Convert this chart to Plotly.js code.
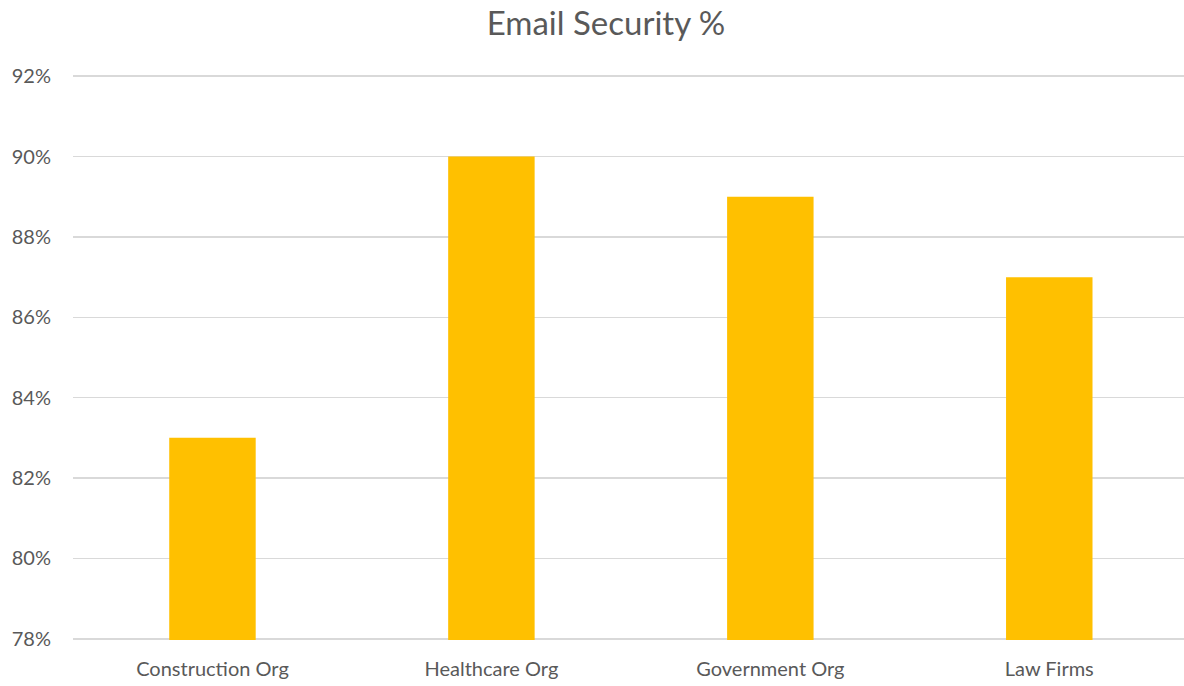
<!DOCTYPE html>
<html>
<head>
<meta charset="utf-8">
<script src="https://cdn.plot.ly/plotly-3.0.1.min.js"></script>
<style>html,body{margin:0;padding:0;background:#fff;}#chart{width:1184px;height:686px;}</style>
</head>
<body>
<div id="chart"></div>
<script>
const categories = ["Construction Org", "Healthcare Org", "Government Org", "Law Firms"];
const values = [83, 90, 89, 87];
const yTickVals = [78, 80, 82, 84, 86, 88, 90, 92];
const yTickText = ["78%", "80%", "82%", "84%", "86%", "88%", "90%", "92%"];

const trace = {
  type: "bar",
  x: categories,
  y: values,
  base: 0,
  width: 0.31,
  marker: {color: "#FFC000"},
  hoverinfo: "x+y"
};

const fontFam = "Lato, 'Open Sans', sans-serif";
const layout = {
  width: 1184,
  height: 686,
  margin: {l: 73, r: 0, t: 75, b: 46, autoexpand: false},
  paper_bgcolor: "#ffffff",
  plot_bgcolor: "#ffffff",
  showlegend: false,
  title: {
    text: "Email Security %",
    font: {family: fontFam, size: 33, color: "#595959"},
    x: 606/1184, xref: "container", xanchor: "center",
    y: 1 - 23/686, yref: "container", yanchor: "middle"
  },
  xaxis: {
    type: "category",
    range: [-0.5, 3.483],
    automargin: false,
    showgrid: false,
    zeroline: false,
    showline: false,
    ticks: "",
    ticklabelstandoff: 15,
    tickfont: {family: fontFam, size: 20, color: "#595959"}
  },
  yaxis: {
    range: [77.97, 92.03],
    automargin: false,
    tickvals: yTickVals,
    ticktext: yTickText,
    showgrid: true,
    gridcolor: "#d9d9d9",
    gridwidth: 1.5,
    zeroline: false,
    showline: false,
    ticks: "",
    ticklabelstandoff: 21,
    tickfont: {family: fontFam, size: 20, color: "#595959"}
  }
};

Plotly.newPlot("chart", [trace], layout, {displayModeBar: false, staticPlot: true});
</script>
</body>
</html>
